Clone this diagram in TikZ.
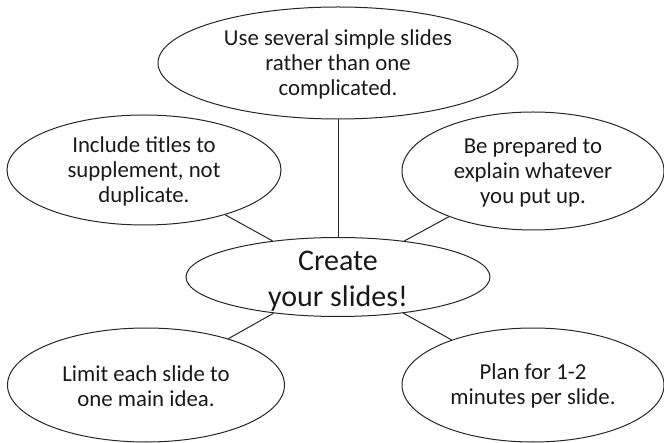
\documentclass[tikz,border=0pt]{standalone}
\usepackage{fontspec}
\setmainfont{Carlito}
\usetikzlibrary{shapes.geometric}

\begin{document}
\begin{tikzpicture}[x=1pt,y=-1pt,
  bubble/.style={draw=black!85,line width=1pt,ellipse,inner sep=0pt},
  idea/.style={align=center,text=black!90,yshift=-1pt,font=\fontsize{22.8}{25}\selectfont},
  mainidea/.style={align=center,text=black!90,yshift=-4pt,font=\fontsize{30}{36}\selectfont},
  link/.style={draw=black!85,line width=1pt}]
\useasboundingbox (0,0) rectangle (664,443);

%centre
\node[bubble,minimum width=304pt,minimum height=79pt,
  label={[mainidea]center:Create\\your slides!}] (create) at (338,277) {};

%ideas
\node[bubble,minimum width=360pt,minimum height=112pt,
  label={[idea]center:Use several simple slides\\rather than one\\complicated.}] (simple) at (338,63) {};
\node[bubble,minimum width=274pt,minimum height=110pt,
  label={[idea]center:Include titles to\\supplement, not\\duplicate.}] (titles) at (144,170) {};
\node[bubble,minimum width=262pt,minimum height=118pt,
  label={[idea]center:Be prepared to\\explain whatever\\you put up.}] (explain) at (533,171) {};
\node[bubble,minimum width=277pt,minimum height=114pt,
  label={[idea]center:Limit each slide to\\one main idea.}] (limit) at (146,385) {};
\node[bubble,minimum width=262pt,minimum height=114pt,
  label={[idea]center:Plan for 1-2\\minutes per slide.}] (plan) at (533,385) {};

%links
\draw[link] (simple) -- (create);
\draw[link] (titles) -- (create);
\draw[link] (explain) -- (create);
\draw[link] (limit) -- (create);
\draw[link] (plan) -- (create);
\end{tikzpicture}
\end{document}
